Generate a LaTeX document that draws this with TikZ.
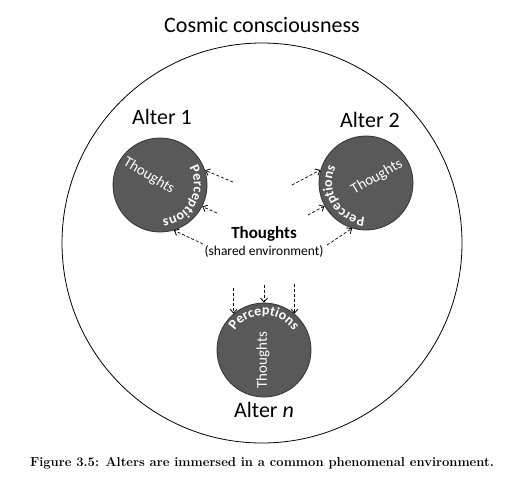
\documentclass[tikz,border=0pt]{standalone}
\usepackage{fontspec}
\newfontfamily\carlito{Carlito}
\usetikzlibrary{decorations.text,arrows.meta}

\tikzset{
  alter/.style={circle,draw=black!80,fill=black!65,line width=0.8pt,minimum size=94pt,inner sep=0pt},
  innertext/.style={text=white,font=\carlito\fontsize{15}{15}\selectfont},
  altername/.style={font=\carlito\fontsize{22}{22}\selectfont},
  flow/.style={-{Straight Barb[length=4pt,width=7pt,line width=0.8pt]},dash pattern=on 3pt off 2pt,line width=0.7pt},
  percept/.style={decorate,decoration={text along path,text align=center,text color=white,
    text={|\carlito\bfseries\fontsize{14}{14}\selectfont|Perceptions}}}
}

\begin{document}
\begin{tikzpicture}[x=1pt,y=1pt]
  \useasboundingbox (0,0) rectangle (508,-480);
  \node[draw,circle,line width=0.8pt,minimum size=400pt,inner sep=0pt] (C) at (262,-243) {};
  \node[altername] (title) at (262,-25) {Cosmic consciousness};

  \node[alter] (A-1) at (160,-185) {};
  \node[alter] (A-2) at (366,-183) {};
  \node[alter] (A-n) at (264,-350) {};
  \node[altername] (L-1) at (162,-117) {Alter 1};
  \node[altername] (L-2) at (370,-120) {Alter 2};
  \node[altername] (L-n) at (264,-410) {Alter {\itshape n}};

  \node[innertext,rotate=-31] (T-1) at (149,-176) {Thoughts};
  \node[innertext,rotate=30] (T-2) at (377,-177) {Thoughts};
  \node[innertext,rotate=90] (T-n) at (263,-360) {Thoughts};
  \path[percept] (A-1.center) ++(35:34pt) arc[start angle=35,end angle=-90,radius=34pt];
  \path[percept] (A-2.center) ++(270:34pt) arc[start angle=270,end angle=150,radius=34pt];
  \path[percept] (A-n.center) ++(150:35pt) arc[start angle=150,end angle=30,radius=35pt];

  \node[align=center,font=\carlito\fontsize{13.5}{17}\selectfont] (S) at (264,-242)
    {{\bfseries\fontsize{17}{17}\selectfont Thoughts}\\(shared environment)};

  \coordinate (s-1a) at (233,-182);
  \coordinate (s-1b) at (217,-213);
  \coordinate (s-1c) at (203,-244);
  \coordinate (s-2a) at (292,-185);
  \coordinate (s-2b) at (308,-215);
  \coordinate (s-2c) at (327,-245);
  \coordinate (s-na) at ([yshift=26pt]A-n.130);
  \coordinate (s-nb) at ([yshift=18pt]A-n.90);
  \coordinate (s-nc) at ([yshift=30pt]A-n.50);
  \draw[flow] (s-1a) -- (A-1.18);
  \draw[flow] (s-1b) -- (A-1.-27);
  \draw[flow] (s-1c) -- (A-1.-73);
  \draw[flow] (s-2a) -- (A-2.164);
  \draw[flow] (s-2b) -- (A-2.209);
  \draw[flow] (s-2c) -- (A-2.253);
  \draw[flow] (s-na) -- (A-n.130);
  \draw[flow] (s-nb) -- (A-n.90);
  \draw[flow] (s-nc) -- (A-n.50);

  \node[font=\bfseries\fontsize{13}{13}\selectfont] (cap) at (262,-463)
    {Figure 3.5: Alters are immersed in a common phenomenal environment.};
\end{tikzpicture}
\end{document}
